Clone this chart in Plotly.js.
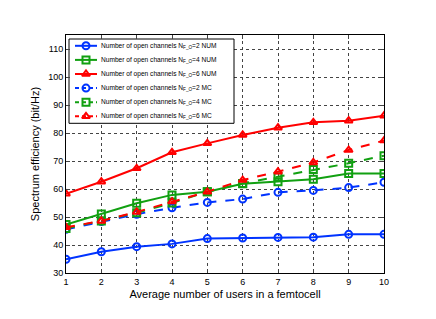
<!DOCTYPE html>
<html>
<head>
<meta charset="utf-8">
<script src="https://cdn.plot.ly/plotly-3.0.1.min.js"></script>
<style>html,body{margin:0;padding:0;background:#fff;}#chart{width:436px;height:319px;}</style>
</head>
<body>
<div id="chart"></div>
<script>
const users = [1, 2, 3, 4, 5, 6, 7, 8, 9, 10];
const num2 = [34.9, 37.6, 39.4, 40.4, 42.3, 42.5, 42.7, 42.8, 43.8, 43.8];
const num4 = [47.3, 51.1, 54.9, 57.9, 59.0, 61.9, 62.6, 63.5, 65.5, 65.5];
const num6 = [58.3, 62.6, 67.4, 73.1, 76.3, 79.3, 81.9, 83.8, 84.4, 86.2];
const mc2 = [45.6, 48.4, 51.0, 53.3, 55.2, 56.4, 58.8, 59.5, 60.5, 62.4];
const mc4 = [45.9, 48.6, 51.5, 55.0, 59.0, 62.0, 64.4, 67.0, 69.2, 71.9];
const mc6 = [46.3, 48.6, 51.8, 55.5, 59.0, 63.2, 66.2, 69.5, 73.9, 77.3];
const names = [
  "Number of open channels N<sub>F_O</sub>=2 NUM",
  "Number of open channels N<sub>F_O</sub>=4 NUM",
  "Number of open channels N<sub>F_O</sub>=6 NUM",
  "Number of open channels N<sub>F_O</sub>=2 MC",
  "Number of open channels N<sub>F_O</sub>=4 MC",
  "Number of open channels N<sub>F_O</sub>=6 MC"
];
const series = [num2, num4, num6, mc2, mc4, mc6];
const blue = "#0033ff", green = "#11a011", red = "#ff0000";
const colors = [blue, green, red, blue, green, red];
const symbols = ["circle-open", "square-open", "triangle-up-open", "circle-open", "square-open", "triangle-up-open"];
const dashes = ["solid", "solid", "solid", "dash", "dash", "dash"];

const data = [];
series.forEach((y, i) => {
  data.push({x: users, y: y, name: names[i], type: "scatter", mode: "lines+markers",
    line: {color: colors[i], width: 2, dash: dashes[i]},
    marker: {symbol: symbols[i], size: 7, color: colors[i], line: {color: colors[i], width: 2}},
    showlegend: false});
});

// custom legend drawn on an overlay axis measured in page pixels
const legLeft = 69, legRight = 234, legTop = 39, legRow0 = 45.8, legStep = 14.1;
const legBottom = legRow0 + legStep * 5 + 7;
data.push({x: [legLeft, legRight, legRight, legLeft, legLeft],
  y: [legTop, legTop, legBottom, legBottom, legTop], xaxis: "x2", yaxis: "y2",
  type: "scatter", mode: "lines", fill: "toself", fillcolor: "#fff",
  line: {color: "#000", width: 1}, showlegend: false, hoverinfo: "skip"});
const annotations = [];
names.forEach((n, i) => {
  const yy = legRow0 + legStep * i;
  data.push({x: [75, 97], y: [yy, yy], xaxis: "x2", yaxis: "y2", type: "scatter", mode: "lines",
    line: {color: colors[i], width: 2, dash: dashes[i] === "dash" ? "4px,3px" : "solid"},
    showlegend: false, hoverinfo: "skip"});
  data.push({x: [86], y: [yy], xaxis: "x2", yaxis: "y2", type: "scatter", mode: "markers",
    marker: {symbol: symbols[i], size: 7, color: colors[i], line: {color: colors[i], width: 2}},
    showlegend: false, hoverinfo: "skip"});
  annotations.push({xref: "x2", yref: "y2", x: 98.5, y: yy, xanchor: "left", yanchor: "middle",
    text: n, showarrow: false, font: {size: 6.6, color: "#000"}});
});

const layout = {
  width: 436, height: 319,
  margin: {l: 66, r: 52, t: 35, b: 46},
  paper_bgcolor: "#fff", plot_bgcolor: "#fff",
  font: {family: "Liberation Sans, Arial, sans-serif", color: "#000", size: 9},
  xaxis: {range: [1, 10], tickvals: users, ticks: "inside", ticklen: 4,
    showline: true, mirror: "ticks", linecolor: "#000", linewidth: 1,
    showgrid: true, gridcolor: "#444", griddash: "dot", gridwidth: 1, zeroline: false,
    title: {text: "Average number of users in a femtocell", font: {size: 11}, standoff: 4},
    tickfont: {size: 9}},
  yaxis: {range: [30, 115], dtick: 10, tick0: 30, ticks: "inside", ticklen: 4,
    showline: true, mirror: "ticks", linecolor: "#000", linewidth: 1,
    showgrid: true, gridcolor: "#444", griddash: "dot", gridwidth: 1, zeroline: false,
    title: {text: "Spectrum efficiency (bit/Hz)", font: {size: 11}, standoff: 6},
    tickfont: {size: 9}},
  xaxis2: {overlaying: "x", range: [66, 384], visible: false, fixedrange: true},
  yaxis2: {overlaying: "y", range: [273, 35], visible: false, fixedrange: true},
  annotations: annotations,
  showlegend: false
};
Plotly.newPlot("chart", data, layout, {displayModeBar: false, staticPlot: true});
</script>
</body>
</html>
